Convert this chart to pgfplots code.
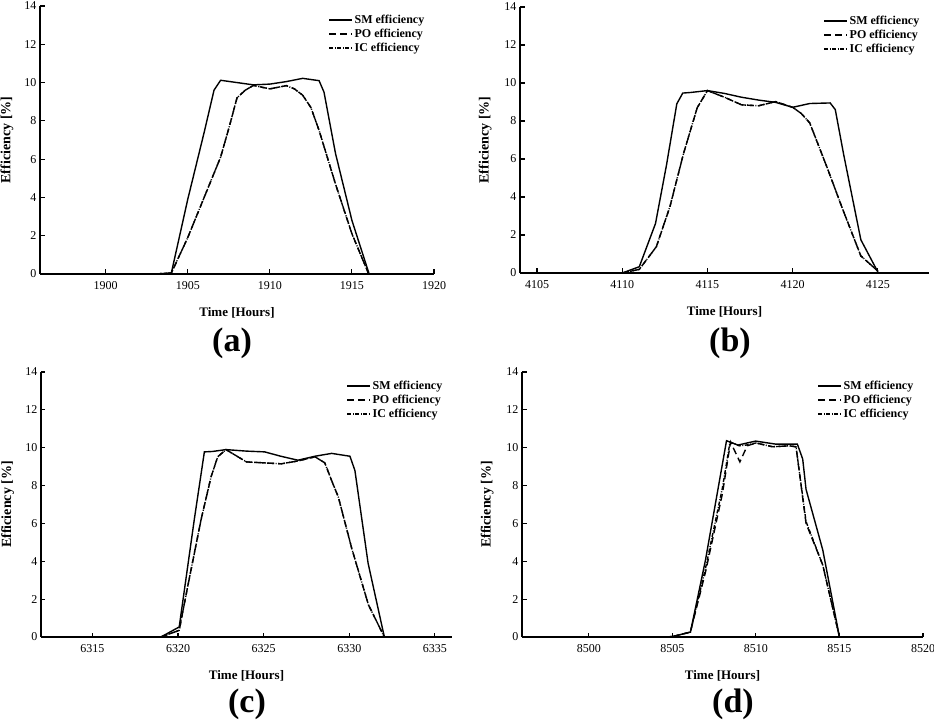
\documentclass[border=0pt]{standalone}
\usepackage{pgfplots}
\pgfplotsset{compat=1.18}
\usepackage{fontspec}
\setmainfont{Liberation Serif}
\pgfplotsset{
  effaxis/.style={
    scale only axis,
    anchor=south west,
    axis lines=left,
    axis line style={-, line width=1.3pt},
    tick style={line width=1.1pt, black},
    tick align=inside,
    major tick length=4.5pt,
    ymin=0, ymax=14,
    ytick={0,2,...,14},
    clip=false,
    /pgf/number format/assume math mode=true,
    tick label style={font=\fontsize{12}{14}\selectfont},
    x tick label style={/pgf/number format/1000 sep={}, yshift=-4pt},
    xlabel={Time [Hours]},
    ylabel={Efficiency [\%]},
    xlabel style={at={(axis description cs:0.5,0)}, anchor=center, yshift=-38.5pt, font=\fontsize{13}{15}\selectfont\bfseries},
    legend style={at={(1,1)}, anchor=north east, xshift=-8pt, yshift=-7pt,
      draw=none, fill=none, inner sep=0pt,
      font=\fontsize{12}{14}\selectfont\bfseries,
      nodes={inner sep=1.5pt, text height=8.5pt, text depth=2.5pt},
      row sep=0pt},
    legend cell align=left,
    legend image code/.code={\draw[##1] (0pt,0pt) -- (23pt,0pt);},
  },
  sm/.style={black, line width=1.4pt, solid},
  po/.style={black, line width=1.4pt, dash pattern=on 7pt off 4pt},
  ic/.style={black, line width=1.4pt, dash pattern=on 4pt off 1.5pt on 1pt off 1.5pt},
}
\begin{document}
\begin{tikzpicture}
\useasboundingbox (0,0) rectangle (934pt,723pt);
% ---------------- (a)
\begin{axis}[effaxis, at={(40pt,449pt)}, width=394pt, height=268pt,
  xmin=1896, xmax=1920, xtick={1900,1905,...,1920},
  ylabel style={at={(axis description cs:-0.084,0.5)}, anchor=center, font=\fontsize{14}{16}\selectfont\bfseries}]
\addplot[sm] coordinates {(1903,0) (1904,0.05) (1905,3.9) (1906,7.4) (1906.6,9.6) (1907,10.12) (1908,10.0) (1909,9.88) (1910,9.92) (1911,10.05) (1912,10.22) (1913,10.1) (1913.3,9.5) (1914,6.3) (1915,2.8) (1916.05,0)};
\addlegendentry{SM efficiency}
\addplot[po] coordinates {(1903,0) (1904,0.05) (1905,1.9) (1906,4.0) (1907,6.1) (1907.5,7.6) (1908,9.2) (1908.5,9.6) (1909,9.85) (1910,9.67) (1911,9.84) (1911.5,9.67) (1912,9.34) (1912.5,8.7) (1913,7.5) (1914,4.7) (1915,2.1) (1916,0.05)};
\addlegendentry{PO efficiency}
\addplot[ic] coordinates {(1903,0) (1904,0.05) (1905,1.9) (1906,4.0) (1907,6.1) (1907.5,7.6) (1908,9.2) (1908.5,9.6) (1909,9.85) (1910,9.67) (1911,9.84) (1911.5,9.67) (1912,9.34) (1912.5,8.7) (1913,7.5) (1914,4.7) (1915,2.1) (1916,0.05)};
\addlegendentry{IC efficiency}
\end{axis}
% ---------------- (b)
\begin{axis}[effaxis, at={(520pt,450pt)}, width=409pt, height=266pt,
  xmin=4104, xmax=4128, xtick={4105,4110,...,4125},
  ylabel style={at={(axis description cs:-0.085,0.5)}, anchor=center, font=\fontsize{14}{16}\selectfont\bfseries}]
\addplot[sm] coordinates {(4110,0) (4111,0.33) (4111.95,2.6) (4112.6,5.7) (4113.2,8.9) (4113.55,9.47) (4114,9.5) (4115,9.6) (4116,9.45) (4117,9.25) (4118,9.1) (4119,8.98) (4120,8.72) (4121,8.92) (4122.2,8.95) (4122.5,8.6) (4123,6.2) (4124,1.75) (4125,0.05)};
\addlegendentry{SM efficiency}
\addplot[po] coordinates {(4110,0) (4111,0.19) (4112,1.38) (4112.8,3.5) (4113.6,6.3) (4114.4,8.7) (4115,9.6) (4116,9.25) (4117,8.85) (4118,8.8) (4119,9.02) (4120,8.72) (4120.5,8.4) (4121,7.9) (4122,5.6) (4123,3.2) (4124,0.9) (4125,0.1)};
\addlegendentry{PO efficiency}
\addplot[ic] coordinates {(4110,0) (4111,0.19) (4112,1.38) (4112.8,3.5) (4113.6,6.3) (4114.4,8.7) (4115,9.6) (4116,9.25) (4117,8.85) (4118,8.8) (4119,9.02) (4120,8.72) (4120.5,8.4) (4121,7.9) (4122,5.6) (4123,3.2) (4124,0.9) (4125,0.1)};
\addlegendentry{IC efficiency}
\end{axis}
% ---------------- (c)
\begin{axis}[effaxis, at={(41pt,86pt)}, width=411pt, height=265pt,
  xmin=6312, xmax=6336, xtick={6315,6320,...,6335},
  ylabel style={at={(axis description cs:-0.081,0.5)}, anchor=center, font=\fontsize{14}{16}\selectfont\bfseries}]
\addplot[sm] coordinates {(6319,0) (6320.07,0.53) (6320.95,6.2) (6321.54,9.78) (6322,9.8) (6322.8,9.9) (6324,9.82) (6325.06,9.78) (6326,9.55) (6327,9.34) (6328,9.55) (6328.97,9.7) (6330.04,9.55) (6330.33,8.8) (6331.1,3.9) (6332.05,0)};
\addlegendentry{SM efficiency}
\addplot[po] coordinates {(6319,0) (6320.07,0.35) (6320.56,2.64) (6321.34,6.17) (6321.93,8.46) (6322.32,9.52) (6322.8,9.9) (6324,9.25) (6325,9.2) (6326.03,9.15) (6327,9.3) (6328,9.52) (6328.57,9.2) (6329,8.2) (6329.36,7.4) (6330.14,4.7) (6331.12,1.7) (6332.05,0)};
\addlegendentry{PO efficiency}
\addplot[ic] coordinates {(6319,0) (6320.07,0.35) (6320.56,2.64) (6321.34,6.17) (6321.93,8.46) (6322.32,9.52) (6322.8,9.9) (6324,9.25) (6325,9.2) (6326.03,9.15) (6327,9.3) (6328,9.52) (6328.57,9.2) (6329,8.2) (6329.36,7.4) (6330.14,4.7) (6331.12,1.7) (6332.05,0)};
\addlegendentry{IC efficiency}
\end{axis}
% ---------------- (d)
\begin{axis}[effaxis, at={(522pt,86pt)}, width=401pt, height=265pt,
  xmin=8496, xmax=8520, xtick={8500,8505,...,8520},
  ylabel style={at={(axis description cs:-0.087,0.5)}, anchor=center, font=\fontsize{14}{16}\selectfont\bfseries}]
\addplot[sm] coordinates {(8504.3,0) (8505,0.02) (8506.08,0.26) (8506.98,4.06) (8508.24,10.37) (8508.92,10.14) (8509.98,10.35) (8511.18,10.19) (8512.48,10.19) (8512.8,9.4) (8513,7.8) (8514,4.6) (8515,0)};
\addlegendentry{SM efficiency}
\addplot[po] coordinates {(8504.3,0) (8505,0.02) (8506.08,0.26) (8507,3.5) (8508,7.6) (8508.48,10.3) (8509.04,9.25) (8509.48,10.1) (8510,10.25) (8511,10.05) (8512,10.1) (8512.4,10.05) (8513,6.0) (8514,3.8) (8515,0)};
\addlegendentry{PO efficiency}
\addplot[ic] coordinates {(8504.3,0) (8505,0.02) (8506.08,0.26) (8507,3.7) (8508,7.9) (8508.45,10.3) (8509,10.1) (8509.48,10.15) (8510,10.25) (8511,10.05) (8512,10.1) (8512.4,10.05) (8513,6.1) (8514,3.8) (8515,0)};
\addlegendentry{IC efficiency}
\end{axis}
\node at (232pt,380pt) {\fontsize{34}{40}\selectfont\bfseries (a)};
\node at (730pt,380pt) {\fontsize{34}{40}\selectfont\bfseries (b)};
\node at (247pt,19pt) {\fontsize{34}{40}\selectfont\bfseries (c)};
\node at (733pt,19pt) {\fontsize{34}{40}\selectfont\bfseries (d)};
\end{tikzpicture}
\end{document}
